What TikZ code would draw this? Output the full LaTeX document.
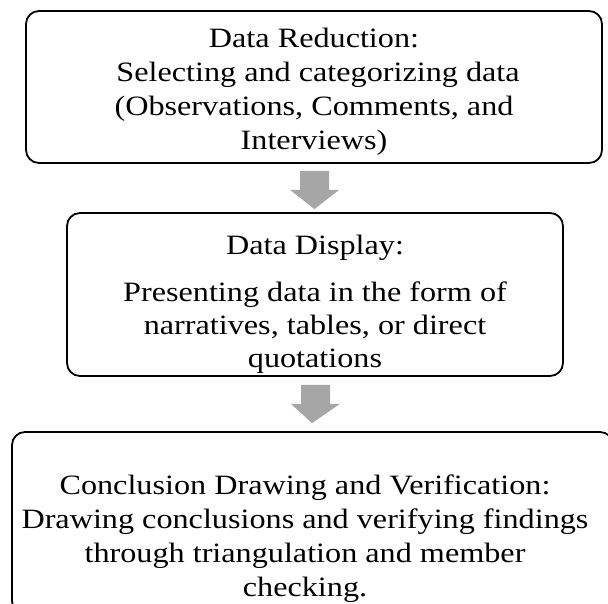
\documentclass[tikz,border=0pt]{standalone}
\usepackage{fontspec}
\setmainfont[FakeStretch=1.15]{Liberation Serif}
\usetikzlibrary{calc}
\definecolor{arrowgray}{RGB}{166,166,166}
\begin{document}
\begin{tikzpicture}[x=1pt,y=-1pt,
  stage/.style={draw=black, line width=1.8pt, rounded corners=13pt, inner sep=0pt},
  txt/.style={align=center, inner sep=0pt, font=\fontsize{28}{34}\selectfont},
  blockarrow/.style={fill=arrowgray, draw=none}]
\useasboundingbox (0,0) rectangle (608,604);
\clip (0,0) rectangle (608,604);

% the three stages
\node[stage, minimum width=576pt, minimum height=152pt] (b1) at (314,87) {};
\node[stage, minimum width=496pt, minimum height=163pt] (b2) at (315,294.5) {};
\node[stage, minimum width=601pt, minimum height=182pt] (b3) at (312.5,523) {};

% texts
\node[txt] (t1) at (314,92) {Data Reduction:\\ \ Selecting and categorizing data\\(Observations, Comments, and\\Interviews)};
\node[txt] (t2a) at (315,248) {Data Display:};
\node[txt, font=\fontsize{28}{33}\selectfont] (t2b) at (315,327.5) {Presenting data in the form of\\narratives, tables, or direct\\quotations};
\node[txt] (t3) at (305,539) {Conclusion Drawing and Verification:\\Drawing conclusions and verifying findings\\through triangulation and member\\checking.};

% block arrows between stages
\foreach \s/\t/\g/\h in {b1/b2/7/3, b2/b3/8/8}{
  \coordinate (top) at ($(\s.south)+(0.5,\g)$);
  \coordinate (tip) at ($(\t.north)+(-0.5,-\h)$);
  \fill[blockarrow] ($(top)+(-14.5,0)$) -- ($(top)+(14.5,0)$) -- ($(top)+(14.5,19)$)
     -- ($(top)+(24.5,19)$) -- (tip) -- ($(top)+(-24.5,19)$) -- ($(top)+(-14.5,19)$) -- cycle;
}
\end{tikzpicture}
\end{document}
